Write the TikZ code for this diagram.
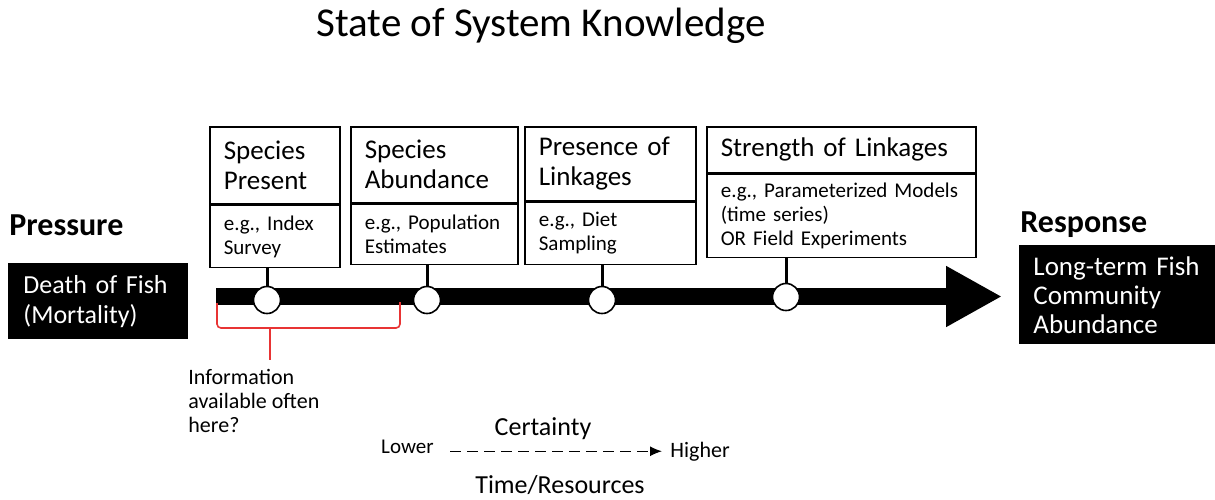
\documentclass[tikz,border=0pt]{standalone}
\usepackage{fontspec}
\setmainfont{Carlito}
\usetikzlibrary{arrows.meta}
\definecolor{bracered}{RGB}{232,52,52}
\tikzset{
  box/.style={draw, line width=0.8pt, anchor=north west, align=left, inner xsep=7pt, inner ysep=0pt},
  head/.style={box, font=\fontsize{13.5}{15}\selectfont},
  body/.style={box, font=\fontsize{10.5}{12}\selectfont},
  blackbox/.style={fill=black, text=white, anchor=north west, align=left, inner xsep=7.5pt, inner ysep=0pt, font=\fontsize{13}{15}\selectfont},
  dot/.style={circle, draw, fill=white, line width=0.8pt, minimum size=13.5pt, inner sep=0pt},
}
\begin{document}
\begin{tikzpicture}[x=0.5pt, y=-0.5pt]
  \useasboundingbox (0,0) rectangle (1215,499);
  \node[anchor=base, font=\fontsize{20.5}{24}\selectfont] (title) at (541,36) {State of System Knowledge};

  \node[head, text width=51pt, minimum height=38.5pt] (h1) at (209,126) {Species\\Present};
  \node[body, text width=51pt, minimum height=31pt] (d1) at (h1.south west) {e.g.,~Index\\Survey};
  \node[head, text width=69.5pt, minimum height=38pt] (h2) at (350,126) {Species\\Abundance};
  \node[body, text width=69.5pt, minimum height=30pt] (d2) at (h2.south west) {e.g.,~Population\\Estimates};
  \node[head, text width=71.5pt, minimum height=37pt] (h3) at (524,126) {Presence~of\\Linkages};
  \node[body, text width=71.5pt, minimum height=31pt] (d3) at (h3.south west) {e.g.,~Diet\\Sampling};
  \node[head, text width=120.5pt, minimum height=23pt] (h4) at (706,126) {Strength~of~Linkages};
  \node[body, text width=120.5pt, minimum height=41.5pt] (d4) at (h4.south west) {e.g.,~Parameterized~Models\\(time~series)\\OR~Field~Experiments};

  \node[anchor=base west, font=\bfseries\fontsize{16}{18}\selectfont, inner sep=0pt] (pressure) at (9,235) {Pressure};
  \node[blackbox, text width=75pt, minimum height=38pt] (death) at (8,263) {Death~of~Fish\\(Mortality)};
  \node[anchor=base west, font=\bfseries\fontsize{16}{18}\selectfont, inner sep=0pt] (response) at (1020,232) {Response};
  \node[blackbox, text width=86pt, minimum height=49.5pt, inner xsep=7pt, font=\fontsize{13.5}{14.5}\selectfont] (fish) at (1019,245) {\mbox{Long-term}~Fish\\Community\\Abundance};

  \coordinate (tl) at (216,296.5);
  \coordinate (tr) at (1002,296.5);
  \draw[line width=8.5pt, -{Triangle[length=28pt, width=28.5pt]}] (tl) -- (tr);
  \foreach \i/\x/\y in {1/267/300, 2/427/300, 3/602/300, 4/786/297} {
    \node[dot] (c\i) at (\x,\y) {};
    \draw[line width=1.5pt] (c\i.north) -- (c\i |- d\i.south);
  }

  \draw[bracered, line width=0.8pt, rounded corners=2pt] (217,303) -- (217,328) -- (400,328) -- (400,302);
  \draw[bracered, line width=0.8pt] (270,328) -- (270,360);
  \node[anchor=north west, align=left, inner sep=0pt, font=\fontsize{11}{12}\selectfont] (info) at (188,369) {Information\\available~often\\here?};

  \node[anchor=base, font=\fontsize{13}{15}\selectfont] (certainty) at (543,435) {Certainty};
  \node[anchor=base east, inner sep=0pt, font=\fontsize{10.5}{12}\selectfont] (lower) at (434,453) {Lower};
  \node[anchor=base west, inner sep=0pt, font=\fontsize{11}{12}\selectfont] (higher) at (670,457) {Higher};
  \draw[dashed, dash pattern=on 5.5pt off 3pt, line width=0.6pt, -{Latex[length=6pt, width=5pt]}] ([xshift=8pt]lower.east |- higher.west) -- ([xshift=-4pt]higher.west);
  \node[anchor=base, font=\fontsize{13}{15}\selectfont] (time) at (560,493) {Time/Resources};
\end{tikzpicture}
\end{document}
